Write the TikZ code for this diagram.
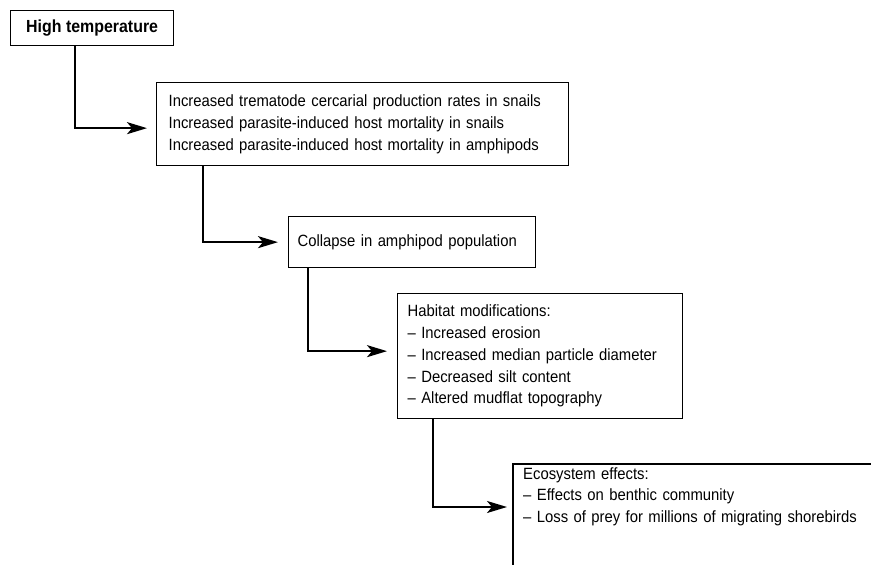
\documentclass[tikz,border=0pt]{standalone}
\usepackage{fontspec}
\setmainfont{Liberation Sans}[FakeStretch=0.91]
\usetikzlibrary{arrows.meta,calc}
\tikzset{
  txt/.style={font=\fontsize{16.3}{21.7}\selectfont},
  box/.style={draw, line width=1.3pt, anchor=north west, inner sep=0pt, txt},
  arr/.style={line width=2pt, -{Stealth[length=20pt,width=12pt,inset=5pt]}}
}
\begin{document}
\begin{tikzpicture}[x=1pt,y=-1pt]
\useasboundingbox (0,0) rectangle (871,565);
\node[box, minimum width=163pt, minimum height=35pt, font=\bfseries\fontsize{17.5}{20}\selectfont] (b1) at (10,10) {High temperature};
\node[box, minimum width=412pt, minimum height=83pt, text width=388pt, align=left, inner xsep=12pt] (b2) at (156,82)
 {Increased trematode cercarial production rates in snails\\
  Increased parasite-induced host mortality in snails\\
  Increased parasite-induced host mortality in amphipods};
\node[box, minimum width=247pt, minimum height=51pt, text width=229pt, align=left, inner xsep=9pt] (b3) at (288,216)
 {Collapse in amphipod population};
\node[box, minimum width=283pt, minimum height=125pt, text width=265pt, align=left, inner xsep=10pt] (b4) at (397,293)
 {Habitat modifications:\\
  -- Increased erosion\\
  -- Increased median particle diameter\\
  -- Decreased silt content\\
  -- Altered mudflat topography};
\node[anchor=north west, inner sep=0pt, text width=345pt, align=left, txt] (b5) at (523,467)
 {Ecosystem effects:\\
  -- Effects on benthic community\\
  -- Loss of prey for millions of migrating shorebirds};
\coordinate (b5tl) at (513,464);
\draw[line width=1.3pt] (871,464) -- (b5tl) -- (513,565);
\draw[arr] ([xshift=65pt]b1.south west) |- ([xshift=-9pt,yshift=-4pt]b2.west);
\draw[arr] ([xshift=47pt]b2.south west) |- ([xshift=-10pt]b3.west);
\draw[arr] ([xshift=20pt]b3.south west) |- ([xshift=-10pt,yshift=5pt]b4.west);
\draw[arr] ([xshift=36pt]b4.south west) |- ([xshift=-6pt,yshift=-43pt]b5tl);
\end{tikzpicture}
\end{document}
